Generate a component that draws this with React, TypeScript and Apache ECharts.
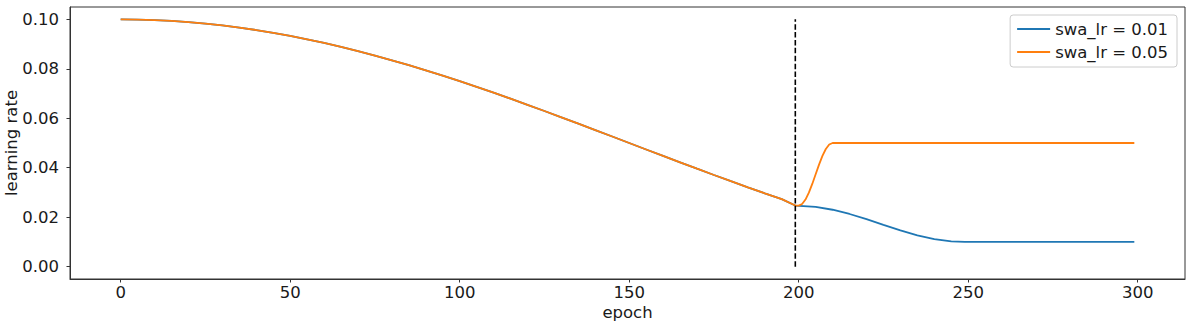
import React, { useEffect, useRef } from "react";
import * as echarts from "echarts";

const blueEpochs = [0, 5, 10, 15, 20, 25, 30, 35, 40, 45, 50, 55, 60, 65, 70, 75, 80, 85, 90, 95, 100, 105, 110, 115, 120, 125, 130, 135, 140, 145, 150, 155, 160, 165, 170, 175, 180, 185, 190, 195, 199, 205, 210, 215, 220, 225, 230, 235, 240, 245, 249, 260, 280, 299];
const blueValues = [0.1, 0.09993, 0.09973, 0.09938, 0.09891, 0.0983, 0.09755, 0.09668, 0.09568, 0.09455, 0.0933, 0.09193, 0.09045, 0.08886, 0.08716, 0.08536, 0.08346, 0.08147, 0.07939, 0.07723, 0.075, 0.0727, 0.07034, 0.06792, 0.06545, 0.06294, 0.0604, 0.05782, 0.05523, 0.05262, 0.05, 0.04738, 0.04477, 0.04218, 0.0396, 0.03706, 0.03455, 0.03208, 0.02966, 0.0273, 0.0247, 0.02418, 0.02301, 0.02129, 0.01918, 0.01689, 0.01464, 0.01266, 0.01114, 0.01023, 0.01, 0.01, 0.01, 0.01];

const orangeEpochs = [0, 5, 10, 15, 20, 25, 30, 35, 40, 45, 50, 55, 60, 65, 70, 75, 80, 85, 90, 95, 100, 105, 110, 115, 120, 125, 130, 135, 140, 145, 150, 155, 160, 165, 170, 175, 180, 185, 190, 195, 199, 200, 201, 202, 203, 204, 205, 206, 207, 208, 209, 210, 250, 299];
const orangeValues = [0.1, 0.09993, 0.09973, 0.09938, 0.09891, 0.0983, 0.09755, 0.09668, 0.09568, 0.09455, 0.0933, 0.09193, 0.09045, 0.08886, 0.08716, 0.08536, 0.08346, 0.08147, 0.07939, 0.07723, 0.075, 0.0727, 0.07034, 0.06792, 0.06545, 0.06294, 0.0604, 0.05782, 0.05523, 0.05262, 0.05, 0.04738, 0.04477, 0.04218, 0.0396, 0.03706, 0.03455, 0.03208, 0.02966, 0.0273, 0.0247, 0.0247, 0.02532, 0.02712, 0.02991, 0.03344, 0.03735, 0.04126, 0.04479, 0.04758, 0.04938, 0.05, 0.05, 0.05];

const swaStartEpoch = 199;
const vlineRange = [0, 0.1];

const xTicks = [0, 50, 100, 150, 200, 250, 300];
const yTicks = [0, 0.02, 0.04, 0.06, 0.08, 0.1];

const seriesNames = ["swa_lr = 0.01", "swa_lr = 0.05"];

const FONT = "DejaVu Sans";
const FS = 16.5;
const TEXT = "#1a1a1a";
const AXIS = "#333333";

export default function App() {
  const ref = useRef<HTMLDivElement>(null);
  useEffect(() => {
    if (!ref.current) return;
    const chart = echarts.init(ref.current, null, { renderer: "svg" });
    const zip = (xs: number[], ys: number[]) => xs.map((x, i) => [x, ys[i]]);
    chart.setOption({
      animation: false,
      backgroundColor: "#ffffff",
      grid: {
        left: 70,
        right: 7,
        top: 7,
        bottom: 48,
        containLabel: false,
        outerBoundsMode: "none",
        show: true,
        borderColor: AXIS,
        borderWidth: 1,
        backgroundColor: "transparent",
      },
      xAxis: {
        type: "value",
        min: -14.95,
        max: 313.95,
        name: "epoch",
        nameLocation: "middle",
        nameGap: 25,
        nameMoveOverlap: false,
        nameTextStyle: { fontFamily: FONT, fontSize: FS, color: TEXT },
        axisLine: { show: true, onZero: false, lineStyle: { color: AXIS, width: 1 } },
        axisTick: { show: true, length: 3.5, inside: false, customValues: xTicks, lineStyle: { color: AXIS } },
        axisLabel: { customValues: xTicks, fontFamily: FONT, fontSize: FS, color: TEXT, margin: 5 },
        splitLine: { show: false },
      },
      yAxis: {
        type: "value",
        min: -0.005,
        max: 0.105,
        name: "learning rate",
        nameLocation: "middle",
        nameGap: 50,
        nameMoveOverlap: false,
        nameTextStyle: { fontFamily: FONT, fontSize: FS, color: TEXT },
        axisLine: { show: true, onZero: false, lineStyle: { color: AXIS, width: 1 } },
        axisTick: { show: true, length: 3.5, inside: false, customValues: yTicks, lineStyle: { color: AXIS } },
        axisLabel: {
          customValues: yTicks,
          fontFamily: FONT,
          fontSize: FS,
          color: TEXT,
          margin: 11,
          formatter: (v: number) => v.toFixed(2),
        },
        splitLine: { show: false },
      },
      legend: {
        data: seriesNames,
        orient: "vertical",
        right: 15,
        top: 15,
        padding: [5, 9, 6, 7],
        itemGap: 5,
        itemWidth: 33,
        itemHeight: 2,
        icon: "rect",
        itemTextGap: 10,
        borderColor: "#cccccc",
        borderWidth: 1,
        borderRadius: 3,
        backgroundColor: "rgba(255,255,255,0.8)",
        textStyle: { fontFamily: FONT, fontSize: FS, color: TEXT, lineHeight: 18 },
      },
      series: [
        {
          name: seriesNames[0],
          type: "line",
          data: zip(blueEpochs, blueValues),
          showSymbol: false,
          lineStyle: { color: "#1f77b4", width: 1.8 },
          itemStyle: { color: "#1f77b4" },
        },
        {
          name: seriesNames[1],
          type: "line",
          data: zip(orangeEpochs, orangeValues),
          showSymbol: false,
          lineStyle: { color: "#ff7f0e", width: 1.8 },
          itemStyle: { color: "#ff7f0e" },
        },
        {
          name: "swa_start",
          type: "line",
          data: [
            [swaStartEpoch, vlineRange[0]],
            [swaStartEpoch, vlineRange[1]],
          ],
          showSymbol: false,
          lineStyle: { color: "#000000", width: 1.6, type: [5.5, 2.4] },
          itemStyle: { color: "#000000" },
        },
      ],
    });
    return () => chart.dispose();
  }, []);
  return (
    <div
      ref={ref}
      style={{ position: "fixed", left: 0, top: 0, width: 1192, height: 327, background: "#fff" }}
    />
  );
}
